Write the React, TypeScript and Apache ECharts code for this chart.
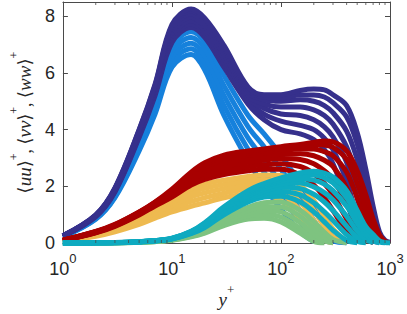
import React, { useEffect, useRef } from "react";
import * as echarts from "echarts";

// y+ sample positions shared by every profile
const X = [1, 2, 3, 5, 7, 10, 15, 20, 30, 50, 70, 100, 150, 200, 250, 300, 400, 500, 600, 700, 800, 900, 1000];

// <uu>+ profiles, lower Reynolds numbers (light blue)
const UU_LIGHT = [
  [0.22, 0.84, 1.6, 3.25, 4.55, 6.2, 6.65, 6.1, 4.5, 2.9, 2.0, 1.2, 0.4, 0.05],
  [0.22, 0.86, 1.64, 3.35, 4.7, 6.38, 6.85, 6.35, 4.85, 3.3, 2.5, 1.65, 0.75, 0.2, 0.03],
  [0.23, 0.88, 1.68, 3.45, 4.85, 6.55, 7.05, 6.6, 5.2, 3.7, 2.95, 2.1, 1.15, 0.45, 0.1, 0.02],
  [0.23, 0.9, 1.72, 3.55, 4.95, 6.75, 7.25, 6.85, 5.55, 4.1, 3.4, 2.6, 1.6, 0.8, 0.3, 0.08, 0.01],
  [0.24, 0.92, 1.76, 3.65, 5.1, 6.93, 7.45, 7.1, 5.9, 4.5, 3.85, 3.1, 2.1, 1.25, 0.6, 0.22, 0.02],
];
// <uu>+ profiles, higher Reynolds numbers (navy)
const UU_DARK = [
  [0.24, 0.93, 1.8, 3.72, 5.2, 7.07, 7.6, 7.25, 6.2, 4.9, 4.35, 4.0, 3.85, 3.65, 3.3, 2.8, 1.5, 0.4, 0.05],
  [0.25, 0.95, 1.83, 3.78, 5.28, 7.18, 7.72, 7.38, 6.35, 5.0, 4.55, 4.3, 4.15, 4.0, 3.7, 3.3, 2.2, 0.9, 0.2, 0.03],
  [0.25, 0.96, 1.86, 3.84, 5.36, 7.29, 7.84, 7.5, 6.5, 5.1, 4.75, 4.55, 4.5, 4.35, 4.1, 3.75, 2.85, 1.6, 0.55, 0.1, 0.02],
  [0.25, 0.97, 1.89, 3.9, 5.44, 7.4, 7.96, 7.62, 6.65, 5.2, 4.9, 4.8, 4.8, 4.7, 4.5, 4.2, 3.4, 2.3, 1.1, 0.35, 0.07],
  [0.26, 0.98, 1.91, 3.94, 5.5, 7.52, 8.08, 7.74, 6.8, 5.3, 5.05, 5.0, 5.05, 5.0, 4.85, 4.6, 3.95, 2.95, 1.75, 0.75, 0.2, 0.04],
  [0.26, 0.99, 1.93, 3.98, 5.56, 7.62, 8.18, 7.85, 6.9, 5.4, 5.15, 5.12, 5.22, 5.22, 5.15, 4.95, 4.45, 3.5, 2.25, 1.05, 0.32, 0.07, 0.02],
  [0.26, 1.0, 1.95, 4.0, 5.6, 7.7, 8.25, 7.93, 6.97, 5.5, 5.23, 5.23, 5.38, 5.43, 5.4, 5.23, 4.85, 3.9, 2.6, 1.3, 0.4, 0.1, 0.02],
];
// <ww>+ profiles (orange = low Re, dark red = high Re)
const WW_LIGHT = [
  [0.06, 0.24, 0.4, 0.66, 0.88, 1.1, 1.3, 1.42, 1.6, 1.72, 1.7, 1.5, 0.85, 0.25, 0.03],
  [0.07, 0.27, 0.44, 0.73, 0.97, 1.22, 1.47, 1.6, 1.76, 1.9, 1.9, 1.75, 1.15, 0.5, 0.1, 0.01],
  [0.07, 0.3, 0.48, 0.8, 1.06, 1.33, 1.63, 1.77, 1.92, 2.06, 2.08, 1.98, 1.45, 0.8, 0.3, 0.06],
  [0.08, 0.32, 0.52, 0.87, 1.15, 1.43, 1.78, 1.93, 2.07, 2.2, 2.24, 2.18, 1.75, 1.15, 0.6, 0.22, 0.01],
  [0.08, 0.34, 0.56, 0.93, 1.23, 1.52, 1.92, 2.08, 2.22, 2.35, 2.4, 2.38, 2.05, 1.5, 0.95, 0.5, 0.05],
];
const WW_DARK = [
  [0.09, 0.36, 0.59, 0.99, 1.31, 1.62, 2.05, 2.25, 2.42, 2.55, 2.6, 2.6, 2.4, 2.05, 1.6, 1.15, 0.4, 0.05],
  [0.09, 0.37, 0.61, 1.02, 1.35, 1.67, 2.12, 2.36, 2.56, 2.7, 2.76, 2.8, 2.7, 2.45, 2.1, 1.7, 0.85, 0.25, 0.03],
  [0.09, 0.38, 0.62, 1.04, 1.38, 1.72, 2.2, 2.47, 2.7, 2.85, 2.92, 2.98, 2.95, 2.8, 2.55, 2.25, 1.4, 0.6, 0.15, 0.02],
  [0.1, 0.39, 0.63, 1.06, 1.4, 1.77, 2.28, 2.57, 2.83, 2.98, 3.06, 3.13, 3.15, 3.08, 2.92, 2.7, 1.95, 1.05, 0.4, 0.08],
  [0.1, 0.4, 0.64, 1.08, 1.42, 1.82, 2.36, 2.67, 2.95, 3.1, 3.18, 3.26, 3.32, 3.32, 3.22, 3.08, 2.5, 1.6, 0.8, 0.25, 0.05],
  [0.1, 0.4, 0.65, 1.09, 1.44, 1.86, 2.44, 2.76, 3.03, 3.18, 3.26, 3.34, 3.43, 3.48, 3.46, 3.38, 2.95, 2.1, 1.2, 0.5, 0.12, 0.02],
  [0.1, 0.41, 0.66, 1.1, 1.45, 1.9, 2.5, 2.83, 3.1, 3.25, 3.32, 3.4, 3.48, 3.55, 3.6, 3.57, 3.25, 2.55, 1.7, 0.85, 0.3, 0.07, 0.01],
];
// <vv>+ profiles (green = low Re, cyan = high Re)
const VV_LIGHT = [
  [0, 0.005, 0.01, 0.03, 0.05, 0.1, 0.22, 0.35, 0.62, 0.85, 0.88, 0.75, 0.35, 0.06, 0.01],
  [0, 0.005, 0.01, 0.03, 0.06, 0.11, 0.24, 0.38, 0.68, 0.96, 1.02, 0.92, 0.52, 0.16, 0.02],
  [0, 0.005, 0.01, 0.03, 0.06, 0.12, 0.26, 0.41, 0.75, 1.06, 1.15, 1.1, 0.72, 0.32, 0.08, 0.01],
  [0, 0.006, 0.012, 0.035, 0.07, 0.13, 0.28, 0.44, 0.82, 1.16, 1.28, 1.27, 0.94, 0.52, 0.2, 0.04],
  [0, 0.006, 0.012, 0.04, 0.07, 0.14, 0.3, 0.48, 0.9, 1.26, 1.42, 1.45, 1.15, 0.75, 0.38, 0.13, 0.01],
];
const VV_DARK = [
  [0, 0.007, 0.014, 0.04, 0.075, 0.145, 0.33, 0.55, 1.0, 1.45, 1.62, 1.65, 1.45, 1.1, 0.75, 0.45, 0.1, 0.01],
  [0, 0.008, 0.015, 0.042, 0.078, 0.15, 0.35, 0.58, 1.05, 1.53, 1.73, 1.82, 1.7, 1.42, 1.1, 0.8, 0.3, 0.06, 0.01],
  [0, 0.008, 0.016, 0.044, 0.081, 0.155, 0.37, 0.61, 1.1, 1.6, 1.83, 1.97, 1.92, 1.72, 1.45, 1.15, 0.6, 0.2, 0.04],
  [0, 0.009, 0.017, 0.046, 0.084, 0.16, 0.38, 0.64, 1.15, 1.67, 1.92, 2.08, 2.12, 1.98, 1.78, 1.52, 0.95, 0.42, 0.13, 0.02],
  [0, 0.01, 0.018, 0.048, 0.087, 0.163, 0.4, 0.67, 1.19, 1.74, 2.0, 2.18, 2.28, 2.22, 2.08, 1.85, 1.3, 0.7, 0.28, 0.08, 0.01],
  [0, 0.01, 0.019, 0.05, 0.089, 0.167, 0.41, 0.7, 1.24, 1.8, 2.05, 2.25, 2.4, 2.4, 2.3, 2.12, 1.6, 0.95, 0.45, 0.16, 0.04, 0.01],
  [0, 0.01, 0.02, 0.05, 0.09, 0.17, 0.42, 0.72, 1.28, 1.85, 2.1, 2.3, 2.47, 2.53, 2.47, 2.33, 1.85, 1.15, 0.58, 0.3, 0.08, 0.02, 0.01],
];

const X_TICKS = [1, 10, 100, 1000];
const X_MINOR = [2, 3, 4, 5, 6, 7, 8, 9, 20, 30, 40, 50, 60, 70, 80, 90, 200, 300, 400, 500, 600, 700, 800, 900];
const Y_TICKS = [0, 2, 4, 6, 8];
const Y_MAX = 8.5;

const C_NAVY = "#36308c";
const C_LBLUE = "#1681dc";
const C_RED = "#a80000";
const C_ORANGE = "#eeba50";
const C_CYAN = "#0eaac0";
const C_GREEN = "#7ec380";
const AXIS = "#4a4a4a";
const TXT = "#262626";

function lineSeries(vals: number[], color: string) {
  return {
    type: "line",
    data: vals.map((v, i) => [X[i], v]),
    showSymbol: false,
    symbol: "none",
    smooth: 0.35,
    clip: false,
    silent: true,
    lineStyle: { color, width: 5, cap: "butt", join: "round" },
    z: 2,
  };
}

export default function App() {
  const ref = useRef<HTMLDivElement>(null);
  useEffect(() => {
    const chart = echarts.init(ref.current!, null, { renderer: "svg" });
    const series: any[] = [];
    UU_LIGHT.forEach((v) => series.push(lineSeries(v, C_LBLUE)));
    UU_DARK.forEach((v) => series.push(lineSeries(v, C_NAVY)));
    WW_LIGHT.forEach((v) => series.push(lineSeries(v, C_ORANGE)));
    WW_DARK.forEach((v) => series.push(lineSeries(v, C_RED)));
    VV_LIGHT.forEach((v) => series.push(lineSeries(v, C_GREEN)));
    VV_DARK.forEach((v) => series.push(lineSeries(v, C_CYAN)));
    series.push({
      type: "scatter",
      data: X_MINOR.map((v) => [v, 0]),
      symbol: "rect",
      symbolSize: [1, 3],
      symbolOffset: [0, -1.5],
      itemStyle: { color: AXIS },
      silent: true,
      clip: false,
      z: 10,
    });
    series.push({
      type: "scatter",
      data: X_MINOR.map((v) => [v, Y_MAX]),
      symbol: "rect",
      symbolSize: [1, 3],
      symbolOffset: [0, 1.5],
      itemStyle: { color: AXIS },
      silent: true,
      clip: false,
      z: 10,
    });

    const sans = "'Liberation Sans', Arial, sans-serif";
    const serif = "'Liberation Serif', 'DejaVu Serif', serif";
    const axisLine = { show: true, onZero: false, lineStyle: { color: AXIS, width: 1 } };
    const tick = { show: true, inside: true, length: 5, lineStyle: { color: AXIS, width: 1 } };

    chart.setOption({
      animation: false,
      backgroundColor: "#ffffff",
      grid: { left: 48, right: 17, top: 2, bottom: 57, containLabel: false },
      xAxis: [
        {
          type: "log",
          logBase: 10,
          min: X_TICKS[0],
          max: X_TICKS[X_TICKS.length - 1],
          position: "bottom",
          axisLine,
          axisTick: tick,
          splitLine: { show: false },
          minorTick: { show: false },
          axisLabel: {
            margin: 9,
            formatter: (v: number) => `{b|10}{s|${Math.round(Math.log10(v))}}`,
            rich: {
              b: { fontSize: 18, lineHeight: 26, verticalAlign: "bottom", fontFamily: sans, color: TXT },
              s: { fontSize: 13, lineHeight: 13, verticalAlign: "top", fontFamily: sans, color: TXT },
            },
          },
          name: "{i|y}{s|+}",
          nameLocation: "middle",
          nameGap: 28,
          nameTextStyle: {
            rich: {
              i: { fontSize: 19, lineHeight: 26, verticalAlign: "bottom", fontFamily: serif, fontStyle: "italic", color: TXT },
              s: { fontSize: 13, lineHeight: 14, verticalAlign: "top", fontFamily: serif, color: TXT },
            },
          },
        },
        {
          type: "log",
          logBase: 10,
          min: X_TICKS[0],
          max: X_TICKS[X_TICKS.length - 1],
          position: "top",
          axisLine,
          axisTick: tick,
          axisLabel: { show: false },
          splitLine: { show: false },
        },
      ],
      yAxis: [
        {
          type: "value",
          min: Y_TICKS[0],
          max: Y_MAX,
          interval: Y_TICKS[1] - Y_TICKS[0],
          position: "left",
          axisLine,
          axisTick: tick,
          splitLine: { show: false },
          axisLabel: {
            margin: 8,
            fontSize: 18,
            fontFamily: sans,
            color: TXT,
            showMaxLabel: false,
            formatter: (v: number) => (Y_TICKS.indexOf(v) >= 0 ? String(v) : ""),
          },
          name: "{a|⟨}{i|uu}{a|⟩}{s|+}{a|, ⟨}{i|vv}{a|⟩}{s|+}{a|, ⟨}{i|ww}{a|⟩}{s|+}",
          nameLocation: "middle",
          nameRotate: 90,
          nameGap: 21,
          nameTextStyle: {
            rich: {
              a: { fontSize: 18, lineHeight: 26, verticalAlign: "bottom", fontFamily: serif, color: TXT },
              i: { fontSize: 19, lineHeight: 26, verticalAlign: "bottom", fontFamily: serif, fontStyle: "italic", color: TXT },
              s: { fontSize: 12, lineHeight: 13, verticalAlign: "top", fontFamily: serif, color: TXT },
            },
          },
        },
        {
          type: "value",
          min: Y_TICKS[0],
          max: Y_MAX,
          interval: Y_TICKS[1] - Y_TICKS[0],
          position: "right",
          axisLine,
          axisTick: tick,
          axisLabel: { show: false },
          splitLine: { show: false },
        },
      ],
      series,
    });
    return () => chart.dispose();
  }, []);
  return (
    <div
      ref={ref}
      style={{ position: "fixed", left: 0, top: 0, width: 407, height: 314, background: "#fff" }}
    />
  );
}
